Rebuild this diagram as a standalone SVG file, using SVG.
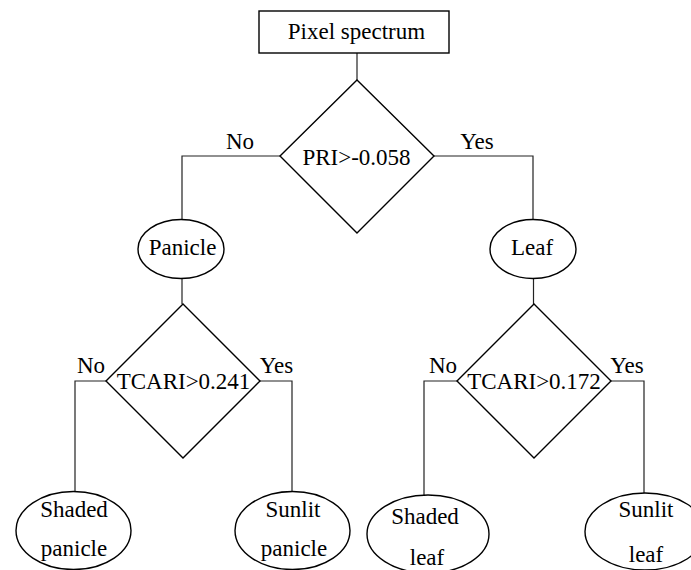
<svg xmlns="http://www.w3.org/2000/svg" width="691" height="570" viewBox="0 0 691 570">
<style>
.s{fill:#fff;stroke:#000;stroke-width:1.4}
.c{fill:none;stroke:#222;stroke-width:1.2}
text{font-family:"Liberation Serif","Times New Roman",serif;font-size:23px;fill:#000;text-anchor:middle}
</style>
<rect width="691" height="570" fill="#fff"/>
<g id="connectors">
<path class="c" d="M357,53V80"/>
<path class="c" d="M280,156H182V219.5"/>
<path class="c" d="M434,156H533V219.5"/>
<path class="c" d="M182,278.5V304"/>
<path class="c" d="M533.5,278.5V304"/>
<path class="c" d="M106,381H75V492"/>
<path class="c" d="M260,381H292V492"/>
<path class="c" d="M457,381H424V495"/>
<path class="c" d="M611,381H644V493"/>
<text x="240" y="149">No</text>
<text x="477" y="149">Yes</text>
<text x="91" y="373">No</text>
<text x="276.5" y="373">Yes</text>
<text x="443" y="373">No</text>
<text x="627" y="373">Yes</text>
</g>
<g id="pixel-spectrum">
<rect class="s" x="259" y="11" width="190" height="42"/>
<text x="356.5" y="38.5">Pixel spectrum</text>
</g>
<g id="pri">
<polygon class="s" points="357,80 434,156 357,233 280,156"/>
<text x="356.5" y="165">PRI&gt;-0.058</text>
</g>
<g id="panicle">
<ellipse class="s" cx="181" cy="249" rx="43" ry="29.5"/>
<text x="182.5" y="254.5">Panicle</text>
</g>
<g id="leaf">
<ellipse class="s" cx="533" cy="249" rx="43" ry="29.5"/>
<text x="532" y="254.5">Leaf</text>
</g>
<g id="tcari-panicle">
<polygon class="s" points="183,304 260,381 183,458 106,381"/>
<text x="183.5" y="389">TCARI&gt;0.241</text>
</g>
<g id="tcari-leaf">
<polygon class="s" points="534,304 611,381 534,458 457,381"/>
<text x="534" y="389">TCARI&gt;0.172</text>
</g>
<g id="shaded-panicle">
<ellipse class="s" cx="73.5" cy="530.5" rx="57.5" ry="39"/>
<text x="74" y="516.5">Shaded</text>
<text x="74" y="556">panicle</text>
</g>
<g id="sunlit-panicle">
<ellipse class="s" cx="292.5" cy="530.5" rx="57.5" ry="39"/>
<text x="293" y="516.5">Sunlit</text>
<text x="294" y="556">panicle</text>
</g>
<g id="shaded-leaf">
<ellipse class="s" cx="428" cy="534" rx="61" ry="39"/>
<text x="425" y="524">Shaded</text>
<text x="427" y="565">leaf</text>
</g>
<g id="sunlit-leaf">
<ellipse class="s" cx="645" cy="531.5" rx="60" ry="38.5"/>
<text x="646" y="516.5">Sunlit</text>
<text x="646" y="561.5">leaf</text>
</g>
</svg>
